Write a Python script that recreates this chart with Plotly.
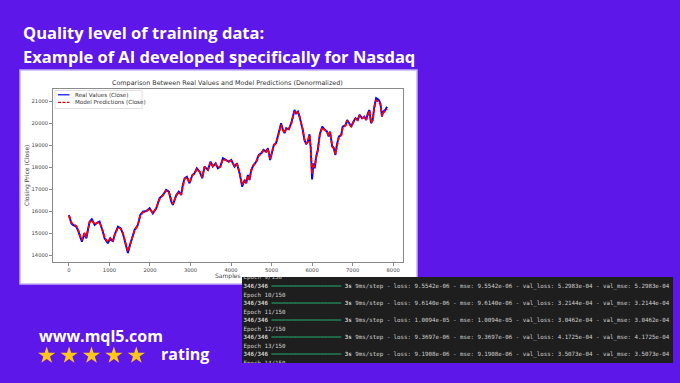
import plotly.graph_objects as go

# ---------------- data ----------------
samples = [0,60,100,180,220,265,320,385,430,475,
           510,565,635,690,755,825,880,960,1020,1085,
           1125,1210,1275,1330,1375,1415,1455,1495,1565,1620,
           1700,1760,1825,1910,1990,2070,2155,2235,2320,2400,
           2465,2525,2565,2650,2710,2770,2810,2855,2910,2975,
           3045,3100,3155,3225,3290,3345,3430,3495,3550,3620,
           3675,3735,3800,3880,3945,4005,4085,4145,4210,4275,
           4335,4375,4415,4455,4500,4555,4620,4685,4745,4800,
           4865,4910,4965,5015,5055,5115,5180,5235,5280,5320,
           5360,5425,5485,5525,5565,5605,5650,5690,5730,5770,
           5810,5855,5895,5935,5965,6000,6035,6065,6100,6140,
           6190,6250,6310,6370,6410,6445,6495,6535,6575,6610,
           6660,6720,6755,6825,6865,6905,6965,7020,7070,7125,
           7170,7235,7290,7335,7375,7415,7455,7495,7535,7580,
           7645,7685,7725,7755,7805,7850]

real_close = [15830,15450,15380,15300,15150,14950,14620,15000,14770,15200,
              15530,15640,15380,15480,15530,15150,14770,14545,14770,14620,
              14920,15300,15230,15000,14620,14400,14100,14390,14850,15150,
              15380,15830,15980,16010,16140,15900,16150,16590,16740,16970,
              16890,16440,16290,16740,16890,16740,17200,17500,17570,17270,
              17650,17730,17950,17800,17500,18030,17880,18260,18030,18180,
              17950,18030,18410,18330,18260,18330,18030,18180,17730,17120,
              17420,17270,17650,17420,17880,18100,18250,18560,18630,18790,
              18710,18860,18330,18710,19010,19120,19550,20000,19700,19550,
              19770,19730,20000,20300,20600,20450,20530,20300,20000,19700,
              19240,19050,19160,19500,18900,17450,18180,17950,18480,18780,
              19500,19850,19700,19620,19400,19620,18940,18860,18560,19010,
              19390,19470,19850,19920,20150,20000,19850,20070,20230,20150,
              20380,20230,20300,20150,20450,20600,20000,20150,20750,21140,
              21060,20910,20300,20530,20600,20750]

pred_close = [15800,15500,15420,15330,15200,15000,14680,15020,14820,15220,
              15500,15600,15400,15470,15500,15180,14820,14600,14780,14660,
              14900,15260,15220,15020,14680,14460,14180,14420,14840,15120,
              15360,15790,15950,16000,16110,15930,16130,16550,16720,16940,
              16880,16480,16330,16710,16870,16760,17160,17460,17540,17300,
              17620,17710,17920,17790,17540,17990,17880,18220,18050,18160,
              17980,18020,18370,18320,18250,18300,18060,18150,17780,17200,
              17400,17300,17620,17450,17850,18080,18230,18530,18610,18760,
              18700,18830,18380,18690,18980,19100,19510,19930,19700,19560,
              19740,19720,19960,20260,20540,20440,20490,20300,20020,19720,
              19280,19080,19160,19460,18960,17700,18150,18000,18450,18750,
              19450,19800,19690,19610,19420,19590,18980,18880,18600,18990,
              19360,19450,19810,19890,20110,19990,19850,20040,20200,20140,
              20340,20220,20280,20160,20420,20560,20030,20130,20680,21040,
              20980,20860,20320,20480,20540,20650]

x_ticks = [0, 1000, 2000, 3000, 4000, 5000, 6000, 7000, 8000]
y_ticks = [14000, 15000, 16000, 17000, 18000, 19000, 20000, 21000]

epochs = [9, 10, 11, 12, 13, 14]
losses = ["9.5542e-06", "9.6140e-06", "1.0094e-05", "9.3697e-06", "9.1908e-06"]
val_losses = ["5.2983e-04", "3.2144e-04", "3.0462e-04", "4.1725e-04", "3.5073e-04"]

rating_stars = 5

# ---------------- figure ----------------
W, H = 680, 383
def px(x):
    return x / W
def py(y):
    return 1 - y / H

PURPLE = "#5d17e8"

fig = go.Figure()
fig.add_trace(go.Scatter(x=samples, y=real_close, mode="lines",
                         line=dict(color="#0000ff", width=1.9),
                         xaxis="x", yaxis="y", showlegend=False, hoverinfo="skip"))
fig.add_trace(go.Scatter(x=samples, y=pred_close, mode="lines",
                         line=dict(color="#ff0000", width=1.8, dash="4px,1.5px"),
                         xaxis="x", yaxis="y", showlegend=False, hoverinfo="skip"))

# terminal lines
bar = "━" * 20
term_lines = []
for i, ep in enumerate(epochs):
    term_lines.append(f"Epoch {ep}/150")
    if i < len(losses):
        term_lines.append(
            f"<b>346/346</b> <span style='color:#22a36b'>{bar}</span> <b>3s</b> 9ms/step - "
            f"loss: {losses[i]} - mse: {losses[i]} - val_loss: {val_losses[i]} - val_mse: {val_losses[i]}")
fig.add_trace(go.Scatter(x=[1.5] * len(term_lines), y=list(range(len(term_lines))),
                         text=term_lines, mode="text", textposition="middle right",
                         textfont=dict(family="DejaVu Sans Mono", size=5.8, color="#cfcfcf"),
                         xaxis="x2", yaxis="y2", cliponaxis=True, showlegend=False,
                         hoverinfo="skip"))

# rating stars (overlay axis in pixel units)
fig.add_trace(go.Scatter(x=[46.7 + 22.4 * i for i in range(rating_stars)], y=[355.5] * rating_stars,
                         mode="markers", marker=dict(symbol="star", size=13, color="#ffc61a",
                                                     line=dict(width=0)),
                         xaxis="x3", yaxis="y3", cliponaxis=False, showlegend=False,
                         hoverinfo="skip"))

axis_font = dict(family="DejaVu Sans", size=5.2, color="#444")
lbl_font = dict(family="DejaVu Sans", size=6, color="#444")
fig.update_layout(
    width=W, height=H, autosize=False,
    margin=dict(l=0, r=0, t=0, b=0),
    paper_bgcolor=PURPLE, plot_bgcolor="rgba(0,0,0,0)",
    xaxis=dict(domain=[px(53), px(403)], range=[-393, 8243], tickvals=x_ticks, tickformat="d",
               showline=True, mirror=True, linecolor="#8a8a8a", linewidth=0.8,
               ticks="outside", ticklen=3, tickcolor="#8a8a8a", tickwidth=0.8,
               showgrid=False, zeroline=False, tickfont=axis_font, anchor="y"),
    yaxis=dict(domain=[py(262), py(89)], range=[13695, 21555], tickvals=y_ticks, tickformat="d",
               showline=True, mirror=True, linecolor="#8a8a8a", linewidth=0.8,
               ticks="outside", ticklen=3, tickcolor="#8a8a8a", tickwidth=0.8,
               showgrid=False, zeroline=False, tickfont=axis_font, anchor="x"),
    xaxis2=dict(domain=[px(242), px(673)], range=[0, 431], visible=False, anchor="y2"),
    yaxis2=dict(domain=[py(363), py(277)], range=[9.94, -0.117], visible=False, anchor="x2"),
    xaxis3=dict(domain=[0, 1], range=[0, W], visible=False, anchor="y3"),
    yaxis3=dict(domain=[0, 1], range=[H, 0], visible=False, anchor="x3"),
)

shapes = [
    dict(type="rect", xref="paper", yref="paper", x0=px(20), x1=px(417), y0=py(284), y1=py(70),
         fillcolor="white", line=dict(color="#c4b2f7", width=1.5), layer="below"),
    dict(type="rect", xref="paper", yref="paper", x0=px(242), x1=px(673), y0=py(363), y1=py(277),
         fillcolor="#1e1e1e", line=dict(width=0), layer="below"),
    # manual legend
    dict(type="rect", xref="paper", yref="paper", x0=px(55), x1=px(142), y0=py(108.5), y1=py(90.5),
         fillcolor="white", line=dict(color="#d8d8d8", width=0.8), layer="above"),
    dict(type="line", xref="paper", yref="paper", x0=px(58), x1=px(69.5), y0=py(94.8), y1=py(94.8),
         line=dict(color="#0000ff", width=1.2), layer="above"),
    dict(type="line", xref="paper", yref="paper", x0=px(58), x1=px(69.5), y0=py(102.4), y1=py(102.4),
         line=dict(color="#ff0000", width=1.2, dash="3px,1.5px"), layer="above"),
]
fig.update_layout(shapes=shapes)

ann = []
title_font = dict(family="Open Sans", size=16.5, color="white", weight=700)
ann.append(dict(text="Quality level of training data:", x=px(21), y=py(33), xref="paper", yref="paper",
                xanchor="left", yanchor="middle", showarrow=False, font=title_font))
ann.append(dict(text="Example of AI developed specifically for Nasdaq", x=px(21), y=py(56),
                xref="paper", yref="paper", xanchor="left", yanchor="middle", showarrow=False,
                font=title_font))
ann.append(dict(text="Comparison Between Real Values and Model Predictions (Denormalized)",
                x=px(228), y=py(83), xref="paper", yref="paper", xanchor="center", yanchor="middle",
                showarrow=False, font=dict(family="DejaVu Sans", size=6.4, color="#333")))
ann.append(dict(text="Samples", x=px(228), y=py(276), xref="paper", yref="paper",
                xanchor="center", yanchor="middle", showarrow=False, font=lbl_font))
ann.append(dict(text="Closing Price (Close)", x=px(26.5), y=py(175.5), xref="paper", yref="paper",
                xanchor="center", yanchor="middle", showarrow=False, textangle=-90, font=lbl_font))
leg_font = dict(family="DejaVu Sans", size=5.6, color="#333")
ann.append(dict(text="Real Values (Close)", x=px(72.5), y=py(94.8), xref="paper", yref="paper",
                xanchor="left", yanchor="middle", showarrow=False, font=leg_font))
ann.append(dict(text="Model Predictions (Close)", x=px(72.5), y=py(102.4), xref="paper", yref="paper",
                xanchor="left", yanchor="middle", showarrow=False, font=leg_font))
brand_font = dict(family="Open Sans", size=16, color="white", weight=700)
ann.append(dict(text="www.mql5.com", x=px(37), y=py(336), xref="paper", yref="paper",
                xanchor="left", yanchor="middle", showarrow=False, font=brand_font))
ann.append(dict(text="rating", x=px(159), y=py(354), xref="paper", yref="paper",
                xanchor="left", yanchor="middle", showarrow=False, font=brand_font))
fig.update_layout(annotations=ann)

fig.write_html("out.html")
